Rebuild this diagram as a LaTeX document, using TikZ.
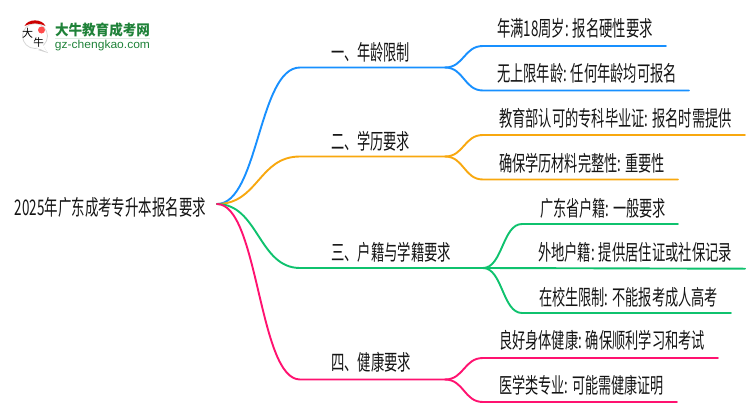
\documentclass[tikz,border=0pt]{standalone}
\usepackage{fontspec}
\setmainfont{Liberation Sans}
\newfontfamily\cjk{Noto Sans CJK SC}
\definecolor{cblue}{HTML}{1890FF}
\definecolor{corange}{HTML}{F8A80F}
\definecolor{cgreen}{HTML}{0FC26E}
\definecolor{cpink}{HTML}{FF1270}
\definecolor{logog}{HTML}{1F8239}
\newcommand{\fit}[2]{\resizebox{#1pt}{\height}{#2}}
\tikzset{
  lab/.style={inner sep=0pt,text=black!92,font=\cjk\fontsize{21.5}{22}\selectfont},
  link/.style={line width=1.9pt,line cap=round}
}
\newcommand{\elbow}[3][]{\draw[link,#1] (#2) .. controls ($(#2)!.5!(#2 -| #3)$) and ($(#3)!.5!(#3 -| #2)$) .. (#3)}
\usetikzlibrary{calc}
\begin{document}
\begin{tikzpicture}[x=1pt,y=-1pt]
\useasboundingbox (0,0) rectangle (750,410);
% logo
\fill[black!18] (44,47) -- (48,53) -- (38,50) -- cycle;
\draw[black!16,fill=white,line width=.8pt] (35,36) circle[radius=12.5];
\fill[white] (42,44) -- (47,52) -- (36,47) -- cycle;
\fill[red!80!black] (24.5,26) .. controls (28,18.5) and (42,18.5) .. (45.5,26) .. controls (38,22.5) and (32,22.5) .. (24.5,26) -- cycle;
\fill[red!70!white] (41.5,30) circle[radius=3.5];
\node[inner sep=0pt] (lg1) at (27.5,33) {\cjk\fontsize{11}{11}\selectfont 大};
\node[inner sep=0pt] (lg2) at (38.5,43) {\cjk\fontsize{10.5}{10.5}\selectfont 牛};
\node[inner sep=0pt,text=logog] (lgt) at (102.5,30) {\fit{95}{\cjk\bfseries\fontsize{14.5}{15}\selectfont 大牛教育成考网}};
\node[inner sep=0pt,text=logog] (lgu) at (102.5,45.5) {\fit{95}{\fontsize{11.5}{12}\selectfont gz-chengkao.com}};
\draw[logog!15,line width=.8pt] (55,38.5) -- (150,38.5);
% text
\node[lab] (root) at (110.5,207) {\fit{191}{2025年广东成考专升本报名要求}};
\node[lab] (b1) at (370.5,52) {\fit{79}{一、年龄限制}};
\node[lab] (b2) at (370.5,141) {\fit{79}{二、学历要求}};
\node[lab] (b3) at (391,252) {\fit{120}{三、户籍与学籍要求}};
\node[lab] (b4) at (371,362) {\fit{80}{四、健康要求}};
\node[lab] (l11) at (575,28) {\fit{156}{年满18周岁: 报名硬性要求}};
\node[lab] (l12) at (587,73) {\fit{180}{无上限年龄: 任何年龄均可报名}};
\node[lab] (l21) at (615.5,118) {\fit{233}{教育部认可的专科毕业证: 报名时需提供}};
\node[lab] (l22) at (582,163) {\fit{166}{确保学历材料完整性: 重要性}};
\node[lab] (l31) at (603,208) {\fit{126}{广东省户籍: 一般要求}};
\node[lab] (l32) at (635,252) {\fit{194}{外地户籍: 提供居住证或社保记录}};
\node[lab] (l33) at (628.5,297) {\fit{179}{在校生限制: 不能报考成人高考}};
\node[lab] (l41) at (602,340) {\fit{206}{良好身体健康: 确保顺利学习和考试}};
\node[lab] (l42) at (581.5,385) {\fit{165}{医学类专业: 可能需健康证明}};
% anchors
\coordinate (r) at (217,204);
\coordinate (s1) at (300,67.5); \coordinate (f1) at (445,67.5);
\coordinate (s2) at (300,156.5); \coordinate (f2) at (445,156.5);
\coordinate (s3) at (300,268); \coordinate (f3) at (483,268);
\coordinate (s4) at (300,379.5); \coordinate (f4) at (445,379.5);
\coordinate (a11) at (483,46); \coordinate (e11) at (666,46);
\coordinate (a12) at (483,90.5); \coordinate (e12) at (689,90.5);
\coordinate (a21) at (483,135); \coordinate (e21) at (745,135);
\coordinate (a22) at (483,179.5); \coordinate (e22) at (678,179.5);
\coordinate (a31) at (522,224); \coordinate (e31) at (678,224);
\coordinate (e32) at (745,268.7);
\coordinate (a33) at (522,313); \coordinate (e33) at (731,313);
\coordinate (a41) at (483,358); \coordinate (e41) at (718,358);
\coordinate (a42) at (483,402); \coordinate (e42) at (677,402);
% connectors
\foreach \c/\n in {cblue/1,corange/2,cgreen/3,cpink/4}{
  \elbow[\c]{r}{s\n} -- (f\n);
}
\foreach \c/\f/\a/\e in {cblue/f1/a11/e11,cblue/f1/a12/e12,corange/f2/a21/e21,corange/f2/a22/e22,cgreen/f3/a31/e31,cgreen/f3/a33/e33,cpink/f4/a41/e41,cpink/f4/a42/e42}{
  \elbow[\c]{\f}{\a} -- (\e);
}
\draw[link,cgreen] (f3) -- (e32);
\end{tikzpicture}
\end{document}
